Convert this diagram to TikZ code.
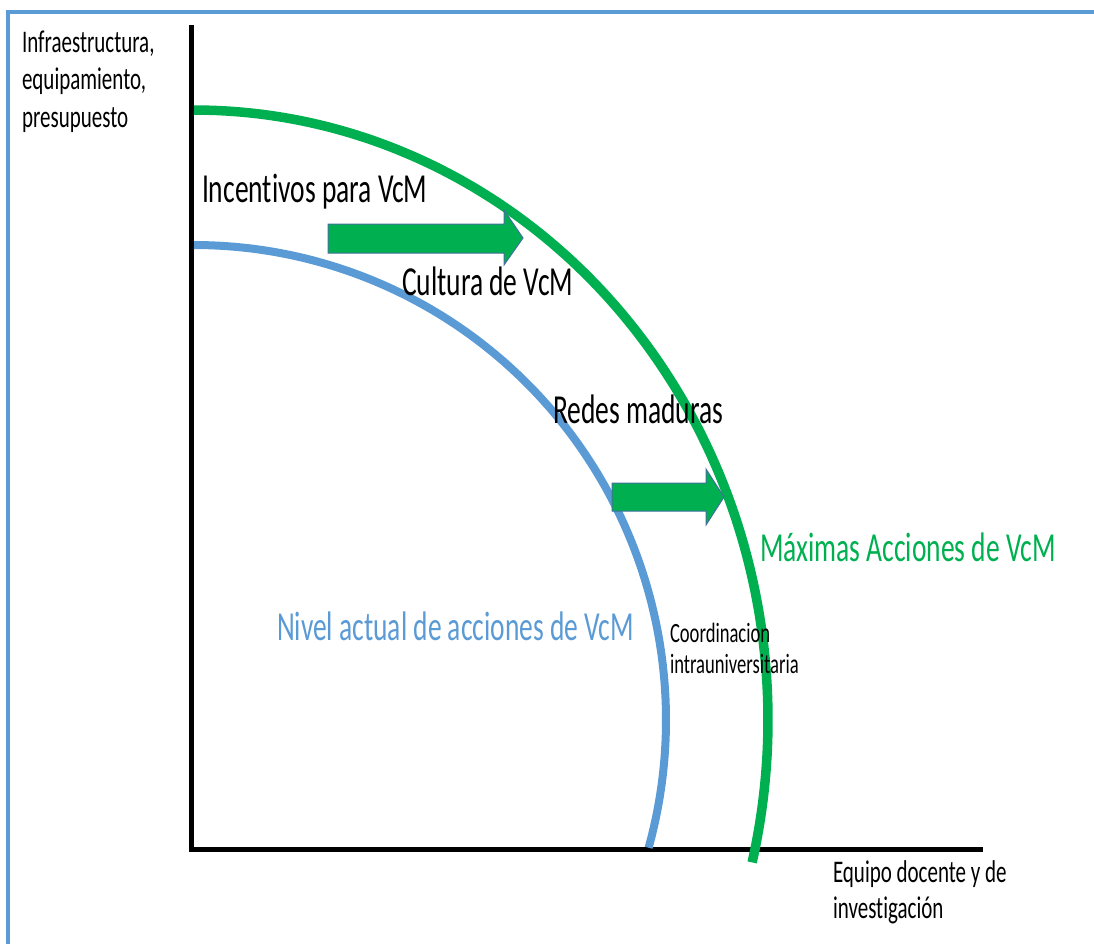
\documentclass[tikz,border=0pt]{standalone}
\usepackage{fontspec}
\setmainfont{Carlito}[Ligatures={NoCommon}]
\usepackage{graphicx}
\definecolor{vgreen}{HTML}{00B050}
\definecolor{vblue}{HTML}{5B9BD5}
\definecolor{aline}{HTML}{41719C}
\newcommand{\tallbox}[1]{\scalebox{1}[1.5]{\begin{tabular}[t]{@{}l@{}}#1\end{tabular}}}
\begin{document}
\begin{tikzpicture}[x=1pt,y=-1pt,
  lbl/.style={anchor=base west, inner sep=0pt, outer sep=0pt},
  bigtxt/.style={lbl, font=\fontsize{27.5}{33}\selectfont},
  axtxt/.style={lbl, font=\fontsize{21}{#1}\selectfont},
  smalltxt/.style={lbl, font=\fontsize{18.6}{20.7}\selectfont},
  axisline/.style={line width=5pt, black, line join=miter},
  frame/.style={line width=3.5pt, vblue},
  blockarrow/.style={fill=vgreen, draw=aline, line width=1pt, line join=miter}]
\useasboundingbox (0,0) rectangle (1094,943);
% frame
\coordinate (fbl) at (8,945);
\coordinate (ftl) at (8,12);
\coordinate (ftr) at (1096,12);
\draw[frame] (fbl) -- (ftl) -- (ftr);
% axes
\coordinate (ytop) at (191,25);
\coordinate (origin) at (191,849);
\coordinate (xend) at (983,849);
\draw[axisline] (ytop) -- (origin) -- (xend);
% frontiers
\draw[vgreen, line width=9.5pt] plot[domain=90:-13.5, samples=150, smooth] ({194+574*cos(\x)}, {720-610*sin(\x)});
\draw[vblue, line width=8pt] plot[domain=90:-15.6, samples=150, smooth] ({194+472*cos(\x)}, {720-475*sin(\x)});
% arrows
\draw[blockarrow] (328,224) -- (504,224) -- (504,210) -- (523,238) -- (504,265) -- (504,253) -- (328,253) -- cycle;
\draw[blockarrow] (612,483) -- (706,483) -- (706,469) -- (724,497) -- (706,525) -- (706,511) -- (612,511) -- cycle;
% labels
\node[axtxt=25.3] (yl) at (22,52) {\tallbox{Infraestructura,\\equipamiento,\\presupuesto}};
\node[axtxt=24] (xl) at (833,882) {\tallbox{Equipo docente y de\\investigación}};
\node[bigtxt] (inc) at (202,202) {\tallbox{Incentivos para VcM}};
\node[bigtxt] (cul) at (402,295) {\tallbox{Cultura de VcM}};
\node[bigtxt] (red) at (553,423) {\tallbox{Redes maduras}};
\node[bigtxt, text=vgreen] (max) at (760,561) {\tallbox{Máximas Acciones de VcM}};
\node[bigtxt, text=vblue] (niv) at (277,640) {\tallbox{Nivel actual de acciones de VcM}};
\node[smalltxt] (coo) at (670,642) {\tallbox{Coordinacion\\intrauniversitaria}};
\end{tikzpicture}
\end{document}
